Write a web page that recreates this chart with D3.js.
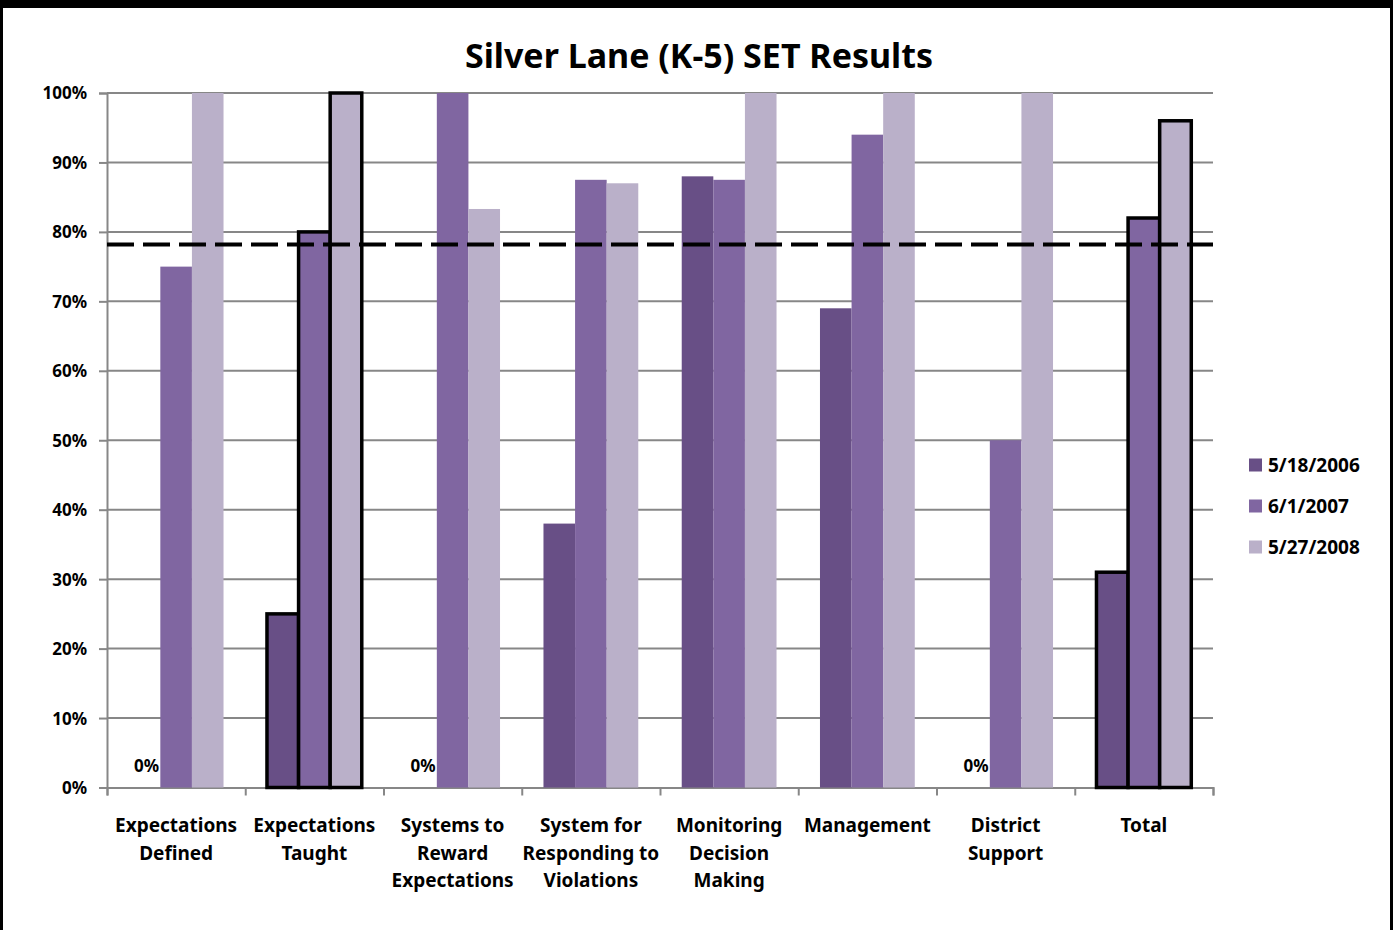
<!DOCTYPE html>
<html><head><meta charset="utf-8">
<script src="https://cdn.jsdelivr.net/npm/d3@7"></script>
<style>
html,body{margin:0;padding:0;background:#fff;}
svg{display:block;}
text{font-family:"Liberation Sans Narrow","Arial Narrow","Noto Sans",sans-serif;font-weight:bold;fill:#000;}
</style></head>
<body>
<svg id="chart" width="1393" height="930"></svg>
<script>
const categories = [
  ["Expectations","Defined"],
  ["Expectations","Taught"],
  ["Systems to","Reward","Expectations"],
  ["System for","Responding to","Violations"],
  ["Monitoring","Decision","Making"],
  ["Management"],
  ["District","Support"],
  ["Total"]
];
const seriesNames = ["5/18/2006","6/1/2007","5/27/2008"];
const s2006 = [0, 25, 0, 38, 88, 69, 0, 31];
const s2007 = [75, 80, 100, 87.5, 87.5, 94, 50, 82];
const s2008 = [100, 100, 83.3, 87, 100, 100, 100, 96];
const outlined = [false, true, false, false, false, false, false, true];
const yTicks = [0,10,20,30,40,50,60,70,80,90,100];
const target = 78.2;
const title = "Silver Lane (K-5) SET Results";
const colors = ["#684F86","#8066A1","#BAB0C9"];

const svg = d3.select("#chart");
// frame
svg.append("rect").attr("x",0).attr("y",0).attr("width",1393).attr("height",8).attr("fill","#000");
svg.append("rect").attr("x",0).attr("y",0).attr("width",3).attr("height",930).attr("fill","#000");
svg.append("rect").attr("x",1390).attr("y",0).attr("width",3).attr("height",930).attr("fill","#000");

const x0 = 107, x1 = 1213, yTop = 93, yBot = 787.5;
const idx = d3.range(categories.length);
const x = d3.scaleBand().domain(idx).range([x0, x1]).paddingInner(0).paddingOuter(0);
const bw = x.bandwidth()/4.375;
const xs = d3.scaleBand().domain([0,1,2]).range([0, bw*3]);
const y = d3.scaleLinear().domain([0,100]).range([yBot, yTop]);

svg.append("text").attr("x",699).attr("y",68).attr("text-anchor","middle")
  .style("font-size","34px").text(title);

// gridlines
svg.append("g").selectAll("line").data(yTicks.filter(d=>d>0)).join("line")
  .attr("x1",x0).attr("x2",x1).attr("y1",d=>y(d)).attr("y2",d=>y(d))
  .attr("stroke","#878787").attr("stroke-width",2);

// y axis
const yAxis = d3.axisLeft(y).tickValues(yTicks).tickFormat(d=>d+"%").tickSize(8).tickPadding(12);
const gy = svg.append("g").attr("transform",`translate(${x0},0)`).call(yAxis);
gy.select(".domain").attr("stroke","#878787").attr("stroke-width",2);
gy.selectAll(".tick line").attr("stroke","#878787").attr("stroke-width",2);
gy.selectAll(".tick text").style("font-size","17px").attr("dy","0.35em").attr("font-family",null);

// x axis
const xAxis = d3.axisBottom(d3.scaleLinear().domain([0,categories.length]).range([x0,x1]))
  .tickValues(d3.range(categories.length+1)).tickSize(8).tickFormat("");
const gx = svg.append("g").attr("transform",`translate(0,${yBot})`).call(xAxis);
gx.select(".domain").attr("stroke","#878787").attr("stroke-width",2);
gx.selectAll(".tick line").attr("stroke","#878787").attr("stroke-width",2);

const series = [s2006, s2007, s2008];
const bars = [];
idx.forEach(i => series.forEach((s,j) => bars.push({i, j, v:s[i]})));
const gb = svg.append("g");
gb.selectAll("rect").data(bars.filter(b=>b.v>0)).join("rect")
  .attr("x", b => x(b.i) + (x.bandwidth()-bw*3)/2 + xs(b.j))
  .attr("width", bw)
  .attr("y", b => y(b.v))
  .attr("height", b => yBot - y(b.v))
  .attr("fill", b => colors[b.j])
  .attr("stroke", b => outlined[b.i] ? "#000" : "none")
  .attr("stroke-width", 3.5);

// zero labels
svg.append("g").selectAll("text").data(bars.filter(b=>b.v===0)).join("text")
  .attr("x", b => x(b.i) + (x.bandwidth()-bw*3)/2 + xs(b.j) + bw/2 + 2)
  .attr("y", yBot - 16)
  .attr("text-anchor","middle").style("font-size","17px").text("0%");

// target line
svg.append("line").attr("x1",x0).attr("x2",x1).attr("y1",y(target)).attr("y2",y(target))
  .attr("stroke","#000").attr("stroke-width",4).attr("stroke-dasharray","27,9");

// category labels
const gl = svg.append("g");
idx.forEach(i => {
  const t = gl.append("text").attr("x", x(i)+x.bandwidth()/2).attr("y", 832)
    .attr("text-anchor","middle").style("font-size","19px");
  categories[i].forEach((ln,k) => t.append("tspan").attr("x", x(i)+x.bandwidth()/2).attr("dy", k===0?0:27.5).text(ln));
});

// legend
const lg = svg.append("g");
seriesNames.forEach((n,j) => {
  const cy = 465 + j*41;
  lg.append("rect").attr("x",1249).attr("y",cy-6.5).attr("width",13).attr("height",13).attr("fill",colors[j]);
  lg.append("text").attr("x",1268).attr("y",cy).attr("dy","0.35em").style("font-size","19px").text(n);
});
</script>
</body></html>
